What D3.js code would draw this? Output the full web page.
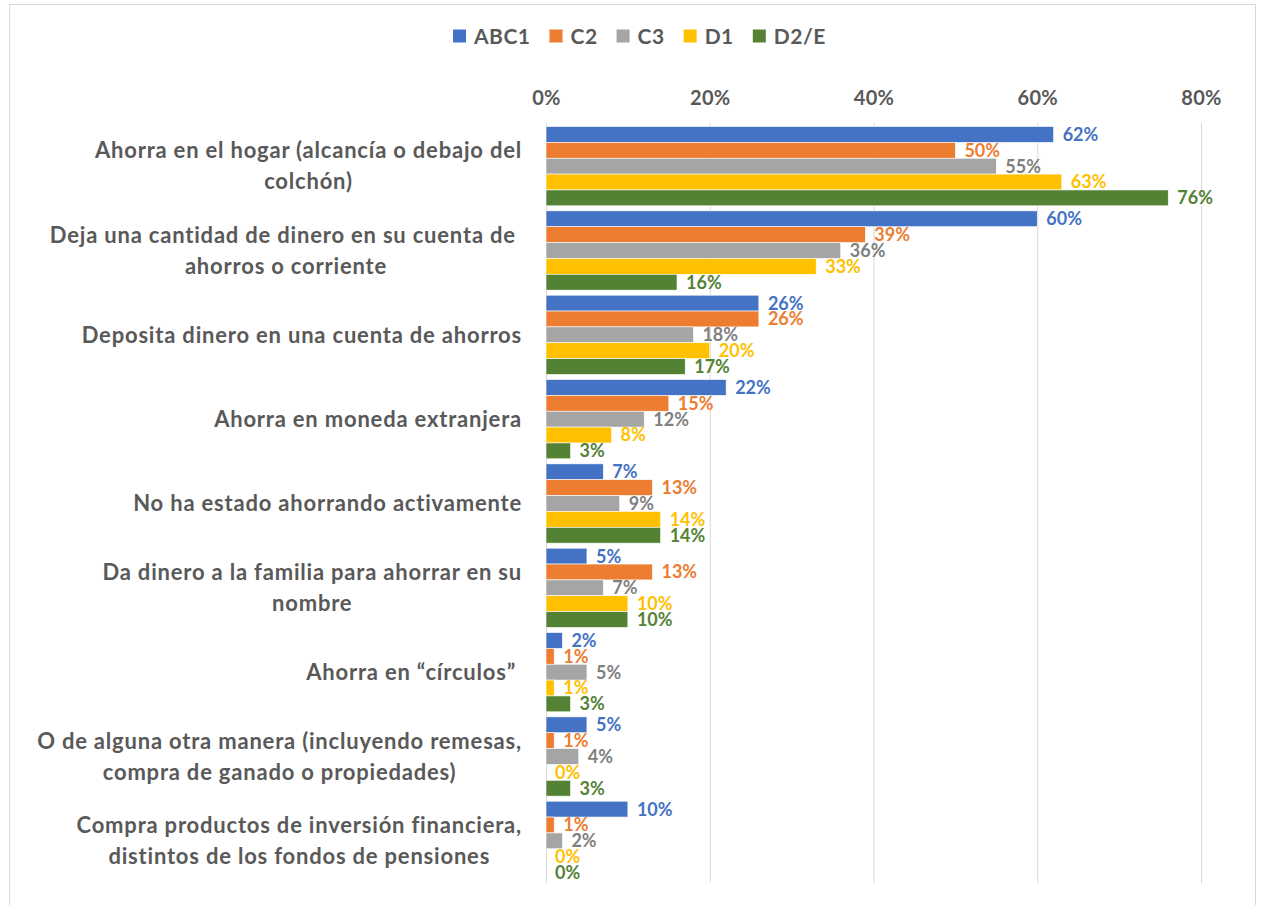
<!DOCTYPE html>
<html>
<head>
<meta charset="utf-8">
<script src="https://cdn.jsdelivr.net/npm/d3@7"></script>
<style>
  html, body { margin: 0; padding: 0; background: #fff; }
  svg { display: block; font-family: Lato, "Liberation Sans", sans-serif; }
  text { white-space: pre; }
</style>
</head>
<body>
<svg id="chart" width="1261" height="905"></svg>
<script>
// Savings methods by socioeconomic level (share of respondents)
const categories = [
  ["Ahorra en el hogar (alcancía o debajo del", "colchón)"],
  ["Deja una cantidad de dinero en su cuenta de\u00a0", "ahorros o corriente"],
  ["Deposita dinero en una cuenta de ahorros"],
  ["Ahorra en moneda extranjera"],
  ["No ha estado ahorrando activamente"],
  ["Da dinero a la familia para ahorrar en su", "nombre"],
  ["Ahorra en \u201cc\u00edrculos\u201d\u00a0"],
  ["O de alguna otra manera (incluyendo remesas,", "compra de ganado o propiedades)"],
  ["Compra productos de inversi\u00f3n financiera,", "distintos de los fondos de pensiones"]
];

const seriesNames = ["ABC1", "C2", "C3", "D1", "D2/E"];

const abc1 = [62, 60, 26, 22, 7, 5, 2, 5, 10];
const c2   = [50, 39, 26, 15, 13, 13, 1, 1, 1];
const c3   = [55, 36, 18, 12, 9, 7, 5, 4, 2];
const d1   = [63, 33, 20, 8, 14, 10, 1, 0, 0];
const d2e  = [76, 16, 17, 3, 14, 10, 3, 3, 0];

const xTicks = [0, 20, 40, 60, 80];

const seriesValues = [abc1, c2, c3, d1, d2e];
const barColors = ["#4472C4", "#ED7D31", "#A5A5A5", "#FFC000", "#548235"];
const labelColors = ["#4472C4", "#ED7D31", "#7F7F7F", "#FFC000", "#548235"];
const textColor = "#595959";

const svg = d3.select("#chart");

// outer frame
svg.append("rect")
  .attr("x", 9.5).attr("y", 4.5)
  .attr("width", 1246).attr("height", 920)
  .attr("fill", "none").attr("stroke", "#D9D9D9").attr("stroke-width", 1);

const plotLeft = 546, plotRight = 1201, plotTop = 124, plotBottom = 883;

const x = d3.scaleLinear().domain([0, 80]).range([plotLeft, plotRight]);
const y0 = d3.scaleBand()
  .domain(d3.range(categories.length))
  .range([plotTop, plotBottom])
  .paddingInner(0.06).paddingOuter(0.03);
const y1 = d3.scaleBand()
  .domain(d3.range(seriesNames.length))
  .range([0, y0.bandwidth()]);

// gridlines
svg.append("g")
  .selectAll("line")
  .data(xTicks)
  .join("line")
  .attr("x1", d => x(d) + 0.5).attr("x2", d => x(d) + 0.5)
  .attr("y1", plotTop - 1).attr("y2", plotBottom)
  .attr("stroke", "#D9D9D9").attr("stroke-width", 1);

// top axis tick labels
const xAxis = d3.axisTop(x)
  .tickValues(xTicks)
  .tickFormat(d => d + "%")
  .tickSize(0).tickPadding(0);
const axisG = svg.append("g")
  .attr("transform", `translate(0, 105)`)
  .call(xAxis);
axisG.select(".domain").remove();
axisG.selectAll("text")
  .attr("fill", textColor)
  .style("font-size", "20px")
  .style("font-weight", "700")
  .style("letter-spacing", "0.3px")
  .style("font-family", "Lato, sans-serif");

// bars
const groups = svg.append("g")
  .selectAll("g")
  .data(categories.map((c, i) => i))
  .join("g")
  .attr("transform", i => `translate(0, ${y0(i)})`);

groups.selectAll("rect")
  .data(i => seriesValues.map((vals, s) => ({ s, v: vals[i] })))
  .join("rect")
  .attr("x", x(0))
  .attr("y", d => y1(d.s))
  .attr("width", d => x(d.v) - x(0))
  .attr("height", y1.bandwidth())
  .attr("fill", d => barColors[d.s])
  .attr("stroke", "#fff").attr("stroke-width", 0.6)
  .attr("stroke-opacity", d => d.v > 0 ? 1 : 0);

groups.selectAll("text")
  .data(i => seriesValues.map((vals, s) => ({ s, v: vals[i] })))
  .join("text")
  .attr("x", d => x(d.v) + 9)
  .attr("y", d => y1(d.s) + y1.bandwidth() / 2)
  .attr("dy", "0.36em")
  .attr("fill", d => labelColors[d.s])
  .style("font-size", "18px")
  .style("font-weight", "700")
  .text(d => d.v + "%");

// category labels: lines centred on each other, block right-aligned to the axis
const labelRight = 522;
const lineGap = 31;
const catG = svg.append("g")
  .style("font-size", "22px")
  .style("font-weight", "700")
  .style("letter-spacing", "0.8px")
  .attr("fill", textColor);

categories.forEach((lines, i) => {
  const cy = y0(i) + y0.bandwidth() / 2;
  const g = catG.append("g");
  const texts = lines.map((line, k) =>
    g.append("text")
      .attr("y", cy + (k - (lines.length - 1) / 2) * lineGap)
      .attr("dy", "0.35em")
      .attr("text-anchor", "middle")
      .text(line));
  const widest = d3.max(texts, t => t.node().getComputedTextLength());
  texts.forEach(t => t.attr("x", labelRight - widest / 2));
});

// legend
const legendG = svg.append("g")
  .style("font-size", "21px")
  .style("font-weight", "700")
  .style("letter-spacing", "0.5px");
let lx = 453;
seriesNames.forEach((name, s) => {
  const item = legendG.append("g").attr("transform", `translate(${lx}, 36)`);
  item.append("rect")
    .attr("x", 0).attr("y", -6.5)
    .attr("width", 13).attr("height", 13)
    .attr("fill", barColors[s]);
  const t = item.append("text")
    .attr("x", 21).attr("y", 0).attr("dy", "0.36em")
    .attr("fill", textColor)
    .text(name);
  lx += 21 + t.node().getComputedTextLength() + 19;
});
</script>
</body>
</html>
